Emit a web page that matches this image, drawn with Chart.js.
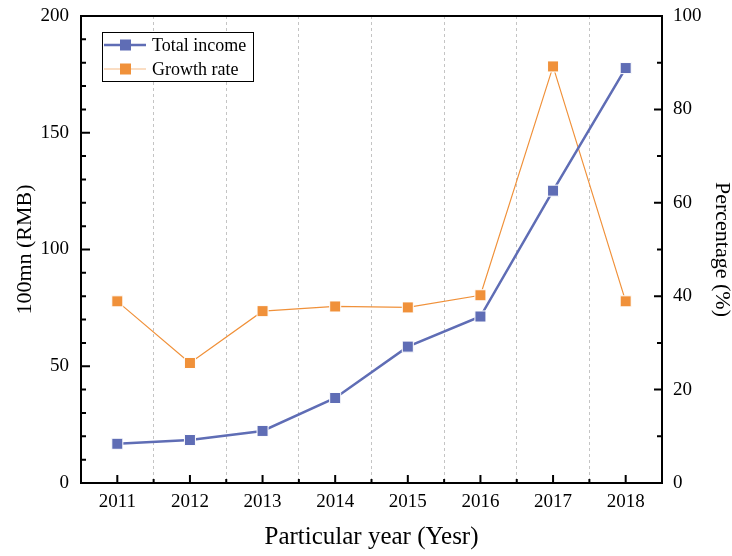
<!DOCTYPE html>
<html>
<head>
<meta charset="utf-8">
<script src="https://cdn.jsdelivr.net/npm/chart.js@4"></script>
<style>
  body { margin: 0; background: #fff; }
  #wrap { width: 732px; height: 556px; }
</style>
</head>
<body>
<div id="wrap"><canvas id="myChart" width="732" height="556"></canvas></div>
<script>
// data
const years = ['2011', '2012', '2013', '2014', '2015', '2016', '2017', '2018'];
const totalIncome = [16.8, 18.4, 22.3, 36.4, 58.4, 71.3, 125.2, 177.7];
const growthRate = [38.9, 25.7, 36.8, 37.8, 37.6, 40.2, 89.2, 38.9];
const leftTicks = [0, 50, 100, 150, 200];
const rightTicks = [0, 20, 40, 60, 80, 100];

const SERIF = "'Liberation Serif', 'DejaVu Serif', serif";
const BLUE = '#5f6db5';
const ORANGE = '#f0913a';

// frame, inward ticks and the boxed legend
const framePlugin = {
  id: 'frame',
  afterDatasetsDraw(chart) {
    const ctx = chart.ctx;
    const a = chart.chartArea;
    const x = chart.scales.x, yl = chart.scales.y, yr = chart.scales.y1;
    ctx.save();
    ctx.strokeStyle = '#000';
    ctx.lineWidth = 2;
    ctx.strokeRect(a.left, a.top, a.right - a.left, a.bottom - a.top);

    ctx.beginPath();
    // x ticks: major on categories, minor between
    for (let i = 0; i < years.length; i++) {
      const px = x.getPixelForValue(i);
      ctx.moveTo(px, a.bottom); ctx.lineTo(px, a.bottom - 8);
      if (i < years.length - 1) {
        const mx = (px + x.getPixelForValue(i + 1)) / 2;
        ctx.moveTo(mx, a.bottom); ctx.lineTo(mx, a.bottom - 4);
      }
    }
    // left axis: every 10, long on labelled values
    for (let v = 0; v <= 200; v += 10) {
      const py = yl.getPixelForValue(v);
      const len = leftTicks.includes(v) ? 9 : 5;
      ctx.moveTo(a.left, py); ctx.lineTo(a.left + len, py);
    }
    // right axis
    for (let v = 0; v <= 100; v += 10) {
      const py = yr.getPixelForValue(v);
      const len = rightTicks.includes(v) ? 8 : 5;
      ctx.moveTo(a.right, py); ctx.lineTo(a.right - len, py);
    }
    ctx.stroke();

    // legend
    const lx = 102, ly = 32, lw = 151, lh = 49;
    ctx.fillStyle = '#fff';
    ctx.fillRect(lx, ly, lw, lh);
    ctx.lineWidth = 1;
    ctx.strokeStyle = '#000';
    ctx.strokeRect(lx + 0.5, ly + 0.5, lw, lh);
    chart.data.datasets.forEach((ds, i) => {
      const cy = 45 + i * 24;
      ctx.strokeStyle = ds.borderColor;
      ctx.lineWidth = ds.borderWidth;
      ctx.globalAlpha = i === 1 ? 0.6 : 1;
      ctx.beginPath();
      ctx.moveTo(104, cy); ctx.lineTo(146, cy);
      ctx.stroke();
      ctx.globalAlpha = 1;
      ctx.fillStyle = ds.backgroundColor;
      ctx.fillRect(120, cy - 5.5, 11, 11);
      ctx.fillStyle = '#000';
      ctx.font = '18px ' + SERIF;
      ctx.textBaseline = 'middle';
      ctx.fillText(ds.label, 152, cy + 1);
    });
    ctx.restore();
  }
};

const ctx = document.getElementById('myChart').getContext('2d');
new Chart(ctx, {
  type: 'line',
  data: {
    labels: years,
    datasets: [{
      label: 'Total income',
      data: totalIncome,
      yAxisID: 'y',
      borderColor: BLUE,
      backgroundColor: BLUE,
      borderWidth: 2.5,
      pointStyle: 'rect',
      pointRadius: 7.8,
      pointBorderColor: '#fff',
      pointBorderWidth: 1,
      tension: 0
    }, {
      label: 'Growth rate',
      data: growthRate,
      yAxisID: 'y1',
      borderColor: ORANGE,
      backgroundColor: ORANGE,
      borderWidth: 1.2,
      pointStyle: 'rect',
      pointRadius: 7.8,
      pointBorderColor: '#fff',
      pointBorderWidth: 1,
      tension: 0
    }]
  },
  options: {
    responsive: false,
    devicePixelRatio: 1,
    animation: false,
    layout: { padding: { top: 16, left: 0, right: 0, bottom: 0 } },
    plugins: {
      legend: { display: false },
      tooltip: { enabled: false }
    },
    scales: {
      x: {
        offset: true,
        grid: {
          offset: true,
          drawTicks: false,
          color: '#c4c4c4',
          lineWidth: 1
        },
        border: { display: false, dash: [3, 3] },
        ticks: { color: '#000', font: { family: SERIF, size: 19 }, padding: 8, maxRotation: 0 },
        title: {
          display: true,
          text: 'Particular year (Yesr)',
          color: '#000',
          font: { family: SERIF, size: 25 },
          padding: { top: 0, bottom: 4 }
        },
        afterFit(scale) { scale.height = 73; }
      },
      y: {
        position: 'left',
        min: 0,
        max: 200,
        grid: { display: false },
        border: { display: false },
        ticks: { stepSize: 50, color: '#000', font: { family: SERIF, size: 19 }, padding: 4 },
        title: {
          display: true,
          text: '100mn (RMB)',
          color: '#000',
          font: { family: SERIF, size: 22 },
          padding: { top: 12, bottom: 0 }
        },
        afterFit(scale) { scale.width = 81; }
      },
      y1: {
        position: 'right',
        min: 0,
        max: 100,
        grid: { display: false },
        border: { display: false },
        ticks: { stepSize: 20, color: '#000', font: { family: SERIF, size: 19 }, padding: 3 },
        title: {
          display: true,
          text: 'Percentage (%)',
          color: '#000',
          font: { family: SERIF, size: 22 },
          padding: { top: -3, bottom: 0 }
        },
        afterFit(scale) { scale.width = 70; }
      }
    }
  },
  plugins: [framePlugin]
});
</script>
</body>
</html>
